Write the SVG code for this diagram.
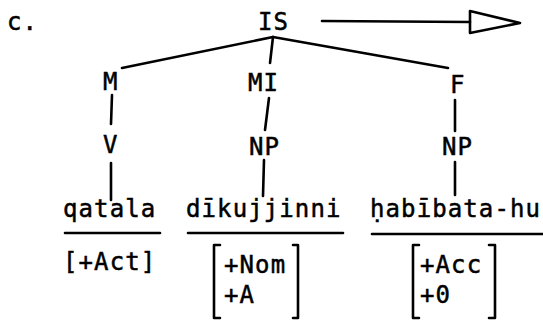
<svg xmlns="http://www.w3.org/2000/svg" width="543" height="320" viewBox="0 0 543 320">
<style>
text{font-family:"DejaVu Sans Mono","Liberation Mono",monospace;font-size:24px;letter-spacing:1.1px;fill:#000;stroke:#000;stroke-width:0.5}
.ln{stroke:#000;stroke-width:2.6;fill:none;stroke-linecap:round;stroke-linejoin:round}
</style>
<rect width="543" height="320" fill="#fff"/>
<text x="7" y="30">c.</text>
<g id="connectors">
<path class="ln" d="M273,37 L122,68"/>
<path class="ln" d="M273,37 L448,68"/>
<path class="ln" d="M273,37 L270,63"/>
<path class="ln" d="M112,95 L111,124"/>
<path class="ln" d="M111,163 L111,200"/>
<path class="ln" d="M269,98 L265,130"/>
<path class="ln" d="M264,160 L263,196"/>
<path class="ln" d="M455,100 L455,131"/>
<path class="ln" d="M455,162 L455,195"/>
<path class="ln" d="M322,21 L470,22"/>
<path class="ln" d="M470,11 L520,23 L470,33 Z"/>
</g>
<g id="IS"><text x="258" y="30">IS</text></g>
<g id="M"><text x="103" y="90">M</text></g>
<g id="MI"><text x="248" y="91">MI</text></g>
<g id="F"><text x="450" y="93">F</text></g>
<g id="V"><text x="103" y="153">V</text></g>
<g id="NP1"><text x="249" y="155">NP</text></g>
<g id="NP2"><text x="442" y="155">NP</text></g>
<g id="qatala">
<text x="63" y="217">qatala</text>
<path class="ln" d="M65,233 L160,233"/>
<text x="63" y="270">[+Act]</text>
</g>
<g id="dikujjinni">
<text x="186" y="217">dīkujjinni</text>
<path class="ln" d="M188,233 L343,233"/>
<path class="ln" d="M220,245 L214,245 L214,318 L220,318"/>
<path class="ln" d="M293,245 L298,245 L298,318 L293,318"/>
<text x="224" y="273">+Nom</text>
<text x="224" y="303">+A</text>
</g>
<g id="habibata">
<text x="370" y="217">ḥabībata-hu</text>
<path class="ln" d="M372,234 L543,234"/>
<path class="ln" d="M419,245 L413,245 L413,318 L419,318"/>
<path class="ln" d="M489,245 L495,245 L495,318 L489,318"/>
<text x="420" y="273">+Acc</text>
<text x="420" y="303">+0</text>
</g>
</svg>
